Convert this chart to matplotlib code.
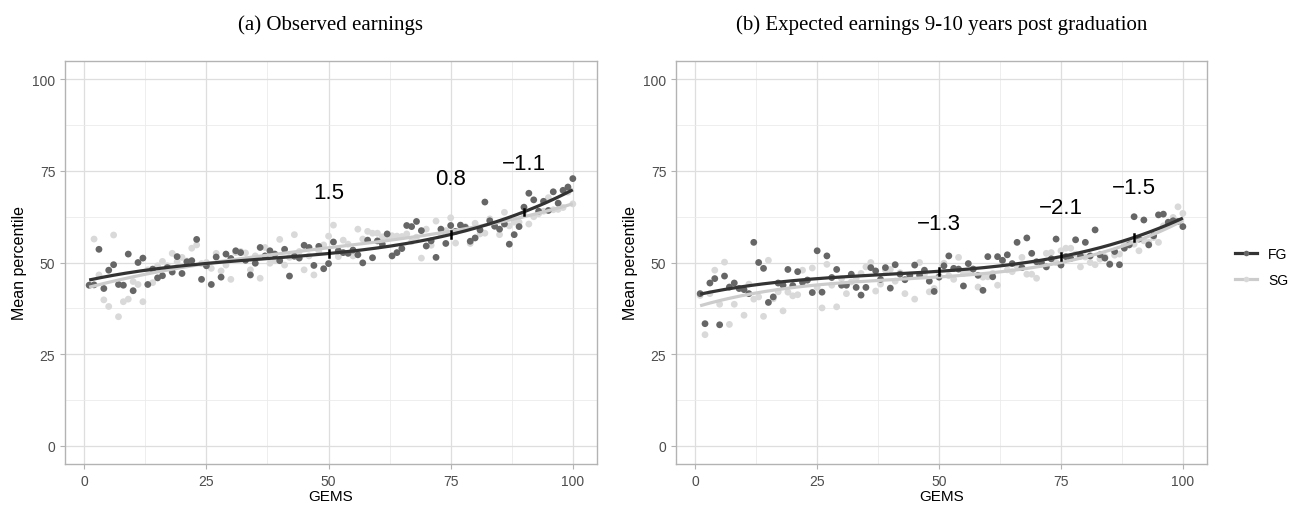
import numpy as np
import matplotlib
matplotlib.use("Agg")
import matplotlib.pyplot as plt
from matplotlib.lines import Line2D

plt.rcParams['font.family'] = ['Liberation Sans', 'DejaVu Sans']

gems = np.arange(1, 101)

obs_fg = [43.8, 43.9, 53.6, 42.9, 47.9, 49.4, 44.0, 43.8, 52.3, 42.3,
          50.0, 51.2, 44.0, 48.2, 45.8, 46.4, 48.6, 47.4, 51.6, 47.0,
          50.2, 50.5, 56.3, 45.4, 49.1, 44.0, 51.5, 46.0, 52.3, 51.1,
          53.2, 52.7, 50.6, 46.6, 49.8, 54.1, 51.8, 53.2, 52.3, 50.5,
          53.6, 46.3, 51.7, 51.2, 54.7, 54.1, 49.2, 54.4, 48.3, 49.7,
          55.6, 53.2, 52.7, 52.5, 53.4, 52.1, 49.9, 56.1, 51.3, 55.9,
          55.0, 57.8, 51.8, 52.7, 53.8, 60.1, 59.8, 61.2, 58.7, 54.5,
          55.9, 51.4, 59.1, 55.2, 60.1, 58.5, 60.2, 59.6, 55.8, 56.7,
          58.9, 66.5, 61.4, 59.9, 59.1, 60.5, 55.0, 57.6, 59.8, 65.1,
          68.9, 67.1, 64.0, 66.7, 64.2, 69.3, 66.2, 69.7, 70.6, 72.9]

obs_sg = [43.8, 56.4, 46.6, 39.8, 38.0, 57.5, 35.2, 39.3, 40.0, 44.8,
          44.0, 39.3, 48.0, 44.5, 49.1, 50.3, 49.1, 52.5, 50.2, 51.4,
          50.4, 53.9, 54.8, 49.7, 50.0, 48.4, 52.5, 47.7, 49.3, 45.4,
          52.7, 53.0, 52.6, 48.0, 51.8, 45.7, 54.1, 49.8, 50.5, 56.3,
          49.3, 51.4, 57.6, 53.0, 48.0, 51.8, 46.6, 53.2, 54.8, 57.2,
          60.2, 51.6, 56.1, 55.0, 51.8, 59.1, 56.4, 58.5, 58.0, 58.0,
          57.0, 57.0, 57.3, 57.2, 57.1, 57.8, 55.7, 56.9, 51.2, 59.1,
          54.7, 61.3, 57.8, 58.7, 62.2, 55.3, 60.1, 59.8, 55.2, 60.7,
          57.8, 58.0, 61.9, 60.0, 57.6, 63.7, 60.0, 61.0, 61.0, 63.1,
          60.5, 62.5, 63.3, 64.0, 67.7, 64.4, 64.5, 65.0, 69.2, 66.0]

exp_fg = [41.5, 33.3, 44.4, 45.6, 33.0, 46.3, 43.3, 44.4, 42.9, 42.6,
          41.5, 55.5, 50.0, 48.4, 39.1, 40.6, 44.4, 43.8, 48.1, 43.7,
          47.5, 44.6, 45.2, 41.8, 53.2, 41.9, 51.8, 45.9, 48.1, 43.8,
          43.8, 46.8, 43.2, 41.1, 43.2, 48.6, 47.7, 45.4, 48.6, 43.0,
          49.4, 46.8, 45.3, 46.5, 49.3, 46.5, 47.9, 44.9, 42.1, 46.0,
          49.1, 51.8, 48.4, 48.2, 43.6, 49.7, 48.2, 46.5, 42.4, 51.6,
          46.1, 51.6, 50.6, 52.1, 49.7, 55.5, 48.6, 56.7, 52.5, 50.2,
          50.0, 48.8, 51.0, 56.4, 49.3, 51.6, 51.1, 56.2, 51.8, 55.5,
          51.8, 58.9, 52.1, 51.2, 49.5, 53.0, 49.4, 53.9, 54.8, 62.5,
          56.4, 61.6, 54.8, 57.3, 63.0, 63.2, 61.0, 61.4, 61.2, 59.8]

exp_sg = [41.0, 30.3, 41.5, 47.9, 38.6, 50.1, 33.1, 38.6, 42.9, 35.6,
          44.1, 40.0, 40.6, 35.3, 50.6, 40.1, 42.0, 36.8, 41.9, 40.9,
          41.2, 47.9, 45.2, 48.5, 43.2, 37.6, 49.5, 43.8, 37.9, 45.6,
          41.5, 44.7, 45.6, 47.0, 48.8, 50.0, 42.2, 44.1, 47.9, 48.1,
          44.9, 47.2, 41.5, 46.1, 40.0, 50.0, 46.8, 42.0, 42.9, 46.4,
          49.8, 46.4, 45.4, 51.4, 47.0, 47.5, 48.2, 43.3, 46.0, 46.1,
          47.0, 43.8, 50.3, 48.0, 47.5, 49.0, 51.4, 46.8, 46.8, 45.7,
          49.5, 52.5, 52.7, 50.0, 53.2, 53.9, 53.9, 52.3, 48.8, 51.5,
          50.0, 49.4, 50.9, 51.6, 49.7, 52.0, 52.3, 54.8, 55.7, 55.0,
          53.2, 55.9, 55.5, 56.8, 55.5, 60.0, 60.5, 62.3, 65.2, 63.4]

mark_x = [50, 75, 90]
obs_labels = ["1.5", "0.8", "\u22121.1"]
exp_labels = ["\u22121.3", "\u22122.1", "\u22121.5"]
obs_label_y = [69, 73, 77]
exp_label_y = [60.7, 65, 70.5]

titles = ["(a) Observed earnings", "(b) Expected earnings 9-10 years post graduation"]

FG_PT = "#666666"
SG_PT = "#d9d9d9"
FG_LN = "#333333"
SG_LN = "#cccccc"

fig = plt.figure(figsize=(13.02, 5.06), dpi=100)
ax1 = fig.add_axes([65/1302, 41/506, 532/1302, 403/506])
ax2 = fig.add_axes([676/1302, 41/506, 531/1302, 403/506])

def draw(ax, fg, sg, labels, label_y, title):
    fg = np.array(fg); sg = np.array(sg)
    ax.scatter(gems, sg, s=24, color=SG_PT, edgecolors='none', zorder=2)
    ax.scatter(gems, fg, s=24, color=FG_PT, edgecolors='none', zorder=3)
    xs = np.linspace(1, 100, 200)
    pf = np.polyfit(gems, fg, 3)
    ps = np.polyfit(gems, sg, 3)
    ax.plot(xs, np.polyval(ps, xs), color=SG_LN, lw=2.3, zorder=4, solid_capstyle='butt')
    ax.plot(xs, np.polyval(pf, xs), color=FG_LN, lw=2.3, zorder=5, solid_capstyle='butt')
    for xm, lab, ly in zip(mark_x, labels, label_y):
        yv = np.polyval(pf, xm)
        ax.plot([xm, xm], [yv - 0.9, yv + 0.9], color='black', lw=1.8, zorder=6)
        ax.text(xm, ly, lab, ha='center', va='center', fontsize=16, color='black')
    ax.set_xlim(-3.95, 104.95)
    ax.set_ylim(-5, 105)
    ax.set_xticks([0, 25, 50, 75, 100])
    ax.set_yticks([0, 25, 50, 75, 100])
    ax.set_xticks([12.5, 37.5, 62.5, 87.5], minor=True)
    ax.set_yticks([12.5, 37.5, 62.5, 87.5], minor=True)
    ax.grid(which='major', color='#dedede', lw=0.9)
    ax.grid(which='minor', color='#ebebeb', lw=0.6)
    ax.set_axisbelow(True)
    for sp in ax.spines.values():
        sp.set_color('#b3b3b3')
        sp.set_linewidth(1.0)
    ax.tick_params(which='major', length=3.5, color='#b3b3b3', labelsize=10, labelcolor='#4d4d4d')
    ax.tick_params(which='minor', length=0)
    ax.set_xlabel("GEMS", fontsize=11, labelpad=1)
    ax.set_ylabel("Mean percentile", fontsize=11.5, labelpad=4)
    ax.set_title(title, fontsize=15, family='Liberation Serif', pad=23)

draw(ax1, obs_fg, obs_sg, obs_labels, obs_label_y, titles[0])
draw(ax2, exp_fg, exp_sg, exp_labels, exp_label_y, titles[1])

handles = [Line2D([0], [0], color=FG_LN, lw=2.3, marker='o', markersize=4, markerfacecolor=FG_PT, markeredgewidth=0),
           Line2D([0], [0], color=SG_LN, lw=2.3, marker='o', markersize=4, markerfacecolor=SG_PT, markeredgewidth=0)]
fig.legend(handles, ["FG", "SG"], loc='center left', bbox_to_anchor=(1222/1302, 1 - 268/506),
           frameon=False, fontsize=10, handlelength=1.6, labelspacing=0.9, handletextpad=0.8)

fig.savefig("out.png", dpi=100)
